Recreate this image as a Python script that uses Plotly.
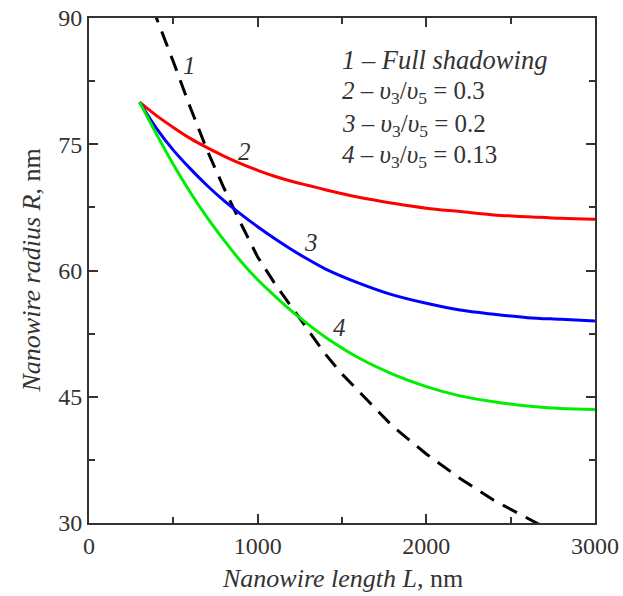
import plotly.graph_objects as go

# Curve 1: full shadowing (dashed)
L1 = [380, 400, 500, 600, 700, 800, 900, 1000, 1100, 1200, 1300, 1400, 1500, 1600,
      1700, 1800, 2000, 2200, 2400, 2600, 2700]
R1 = [91.3, 90.0, 84.8, 79.4, 74.3, 69.8, 65.6, 61.6, 58.5, 55.7, 52.9, 50.1, 47.7, 45.6,
      43.5, 41.5, 38.2, 35.3, 32.7, 30.5, 29.5]

# Curves 2-4 share the same length grid
L = [300, 400, 500, 600, 700, 800, 900, 1000, 1100, 1200, 1300, 1400, 1600, 1800,
     2000, 2200, 2400, 2600, 2800, 3000]
R2 = [80.0, 78.4, 77.0, 75.7, 74.6, 73.6, 72.7, 71.9, 71.2, 70.6, 70.1, 69.6, 68.7, 68.0,
      67.4, 67.0, 66.6, 66.4, 66.2, 66.1]
R3 = [80.0, 76.9, 74.3, 72.1, 70.1, 68.3, 66.7, 65.2, 63.8, 62.5, 61.3, 60.2, 58.5, 57.1,
      56.1, 55.3, 54.8, 54.4, 54.2, 54.0]
R4 = [80.0, 76.2, 72.6, 69.3, 66.3, 63.6, 61.1, 58.9, 57.0, 55.2, 53.6, 52.1, 49.6, 47.7,
      46.2, 45.1, 44.4, 43.9, 43.6, 43.5]

curve_labels = ["1", "2", "3", "4"]
label_x = [598, 923, 1314, 1485]
label_y = [84.4, 74.1, 63.3, 53.2]

legend_lines = [
    "<i>1 – Full shadowing</i>",
    "<i>2 – υ</i><sub>3</sub>/<i>υ</i><sub>5</sub> = 0.3",
    "<i>3 – υ</i><sub>3</sub>/<i>υ</i><sub>5</sub> = 0.2",
    "<i>4 – υ</i><sub>3</sub>/<i>υ</i><sub>5</sub> = 0.13",
]
legend_y = [85.0, 81.1, 77.2, 73.5]
legend_sizes = [26.5, 25, 25, 25]
legend_x = 1490

x_title = "<i>Nanowire length L</i>, nm"
y_title = "<i>Nanowire radius R</i>, nm"

FONT = "Liberation Serif, Times New Roman, serif"
TXT = "#333333"
AX = "#333333"

fig = go.Figure()
fig.add_trace(go.Scatter(x=L1, y=R1, mode="lines",
                         line=dict(color="black", width=3, dash="16px,10px"),
                         showlegend=False))
fig.add_trace(go.Scatter(x=L, y=R2, mode="lines", line_shape="spline",
                         line=dict(color="#ff0000", width=3), showlegend=False))
fig.add_trace(go.Scatter(x=L, y=R3, mode="lines", line_shape="spline",
                         line=dict(color="#0000ff", width=3), showlegend=False))
fig.add_trace(go.Scatter(x=L, y=R4, mode="lines", line_shape="spline",
                         line=dict(color="#00ee00", width=3), showlegend=False))

for t, x, y in zip(curve_labels, label_x, label_y):
    fig.add_annotation(x=x, y=y, text="<i>" + t + "</i>", showarrow=False,
                       font=dict(family=FONT, size=25, color=TXT))

for t, y, s in zip(legend_lines, legend_y, legend_sizes):
    fig.add_annotation(x=legend_x, y=y, text=t, showarrow=False, xanchor="left",
                       font=dict(family=FONT, size=s, color=TXT))

# axis titles
fig.add_annotation(xref="paper", yref="paper", x=0.5, y=-0.109, text=x_title,
                   showarrow=False, xanchor="center", yanchor="middle",
                   font=dict(family=FONT, size=26, color=TXT))
fig.add_annotation(xref="paper", yref="paper", x=-0.1146, y=0.5, text=y_title,
                   textangle=-90, showarrow=False, xanchor="center", yanchor="middle",
                   font=dict(family=FONT, size=26, color=TXT))

axis_common = dict(
    showline=True, linecolor=AX, linewidth=2, mirror="ticks",
    ticks="inside", ticklen=9, tickwidth=1.5, tickcolor=AX,
    showgrid=False, zeroline=False, automargin=False, ticklabeloverflow="allow",
    tickfont=dict(family=FONT, size=24, color=TXT),
)

fig.update_xaxes(range=[0, 3000], tickvals=[0, 1000, 2000, 3000],
                 minor=dict(ticks="inside", ticklen=6, tickwidth=1.5, tickcolor=AX,
                            tickvals=[500, 1500, 2500]),
                 **axis_common)
fig.update_yaxes(range=[30, 90], tickvals=[30, 45, 60, 75, 90],
                 minor=dict(ticks="inside", ticklen=6, tickwidth=1.5, tickcolor=AX,
                            tickvals=[37.5, 52.5, 67.5, 82.5]),
                 **axis_common)

fig.update_layout(width=623, height=596,
                  margin=dict(l=89, r=28, t=18, b=73),
                  paper_bgcolor="white", plot_bgcolor="white")

fig.write_html("out.html", config={"displayModeBar": False},
               post_script="document.body.style.margin='0';document.body.style.overflow='hidden';")
